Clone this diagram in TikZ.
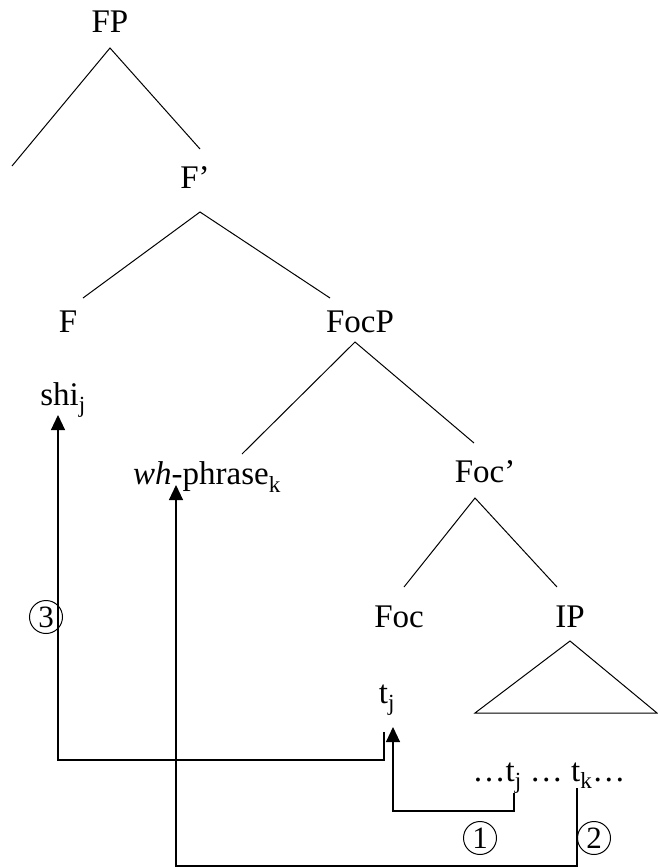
\documentclass[tikz,border=0pt]{standalone}
\usepackage{fontspec}
\setmainfont{Liberation Serif}
\usetikzlibrary{arrows.meta}
\begin{document}
\begin{tikzpicture}[x=1pt,y=-1pt,
  lbl/.style={inner sep=0pt,font=\fontsize{33}{38}\selectfont},
  br/.style={line width=1pt},
  mv/.style={line width=1.1pt,-{Triangle[length=15pt,width=14pt]}},
  num/.style={circle,draw,line width=1pt,minimum size=33pt,inner sep=0pt,font=\fontsize{31}{34}\selectfont}]
\useasboundingbox (0,0) rectangle (657,867);
% labels
\node[lbl] (FP) at (110,22) {FP};
\node[lbl] (Fbar) at (195,178) {F’};
\node[lbl] (F) at (68,322) {F};
\node[lbl] (FocP) at (360,322) {FocP};
\node[lbl] (shi) at (63,400) {shi\textsubscript{j}};
\node[lbl] (wh) at (207,477) {\textit{wh}-phrase\textsubscript{k}};
\node[lbl] (Focbar) at (485,472) {Foc’};
\node[lbl] (Foc) at (399,617) {Foc};
\node[lbl] (IP) at (570,617) {IP};
\node[lbl] (tj) at (387,700) {t\textsubscript{j}};
\node[lbl] (seq) at (549,778) {…t\textsubscript{j} … t\textsubscript{k}…};
\node[num] (c1) at (480,838) {1};
\node[num] (c2) at (594,838) {2};
\node[num] (c3) at (46,617) {3};
% branch points
\coordinate (fpA) at (110,48);
\coordinate (fpL) at (12,166);
\coordinate (fpR) at (200,149);
\coordinate (fbA) at (200,212);
\coordinate (fbL) at (83,298);
\coordinate (fbR) at (330,298);
\coordinate (fcA) at (355,342);
\coordinate (fcL) at (242,454);
\coordinate (fcR) at (474,443);
\coordinate (foA) at (475,498);
\coordinate (foL) at (404,587);
\coordinate (foR) at (557,587);
\coordinate (ipA) at (570,641);
\coordinate (ipL) at (475,713);
\coordinate (ipR) at (657,713);
\draw[br] (fpL) -- (fpA) -- (fpR);
\draw[br] (fbL) -- (fbA) -- (fbR);
\draw[br] (fcL) -- (fcA) -- (fcR);
\draw[br] (foL) -- (foA) -- (foR);
\draw[br] (ipL) -- (ipA) -- (ipR) -- cycle;
% movement arrows
\coordinate (m1s) at (514,793);
\coordinate (m1a) at (514,811);
\coordinate (m1b) at (393,811);
\coordinate (m1e) at (393,727);
\draw[mv] (m1s) -- (m1a) -- (m1b) -- (m1e);
\coordinate (m2s) at (577,788);
\coordinate (m2a) at (577,866);
\coordinate (m2b) at (176,866);
\coordinate (m2e) at (176,485);
\draw[mv] (m2s) -- (m2a) -- (m2b) -- (m2e);
\coordinate (m3s) at (384,732);
\coordinate (m3a) at (384,760);
\coordinate (m3b) at (58,760);
\coordinate (m3e) at (58,415);
\draw[mv] (m3s) -- (m3a) -- (m3b) -- (m3e);
\end{tikzpicture}
\end{document}
